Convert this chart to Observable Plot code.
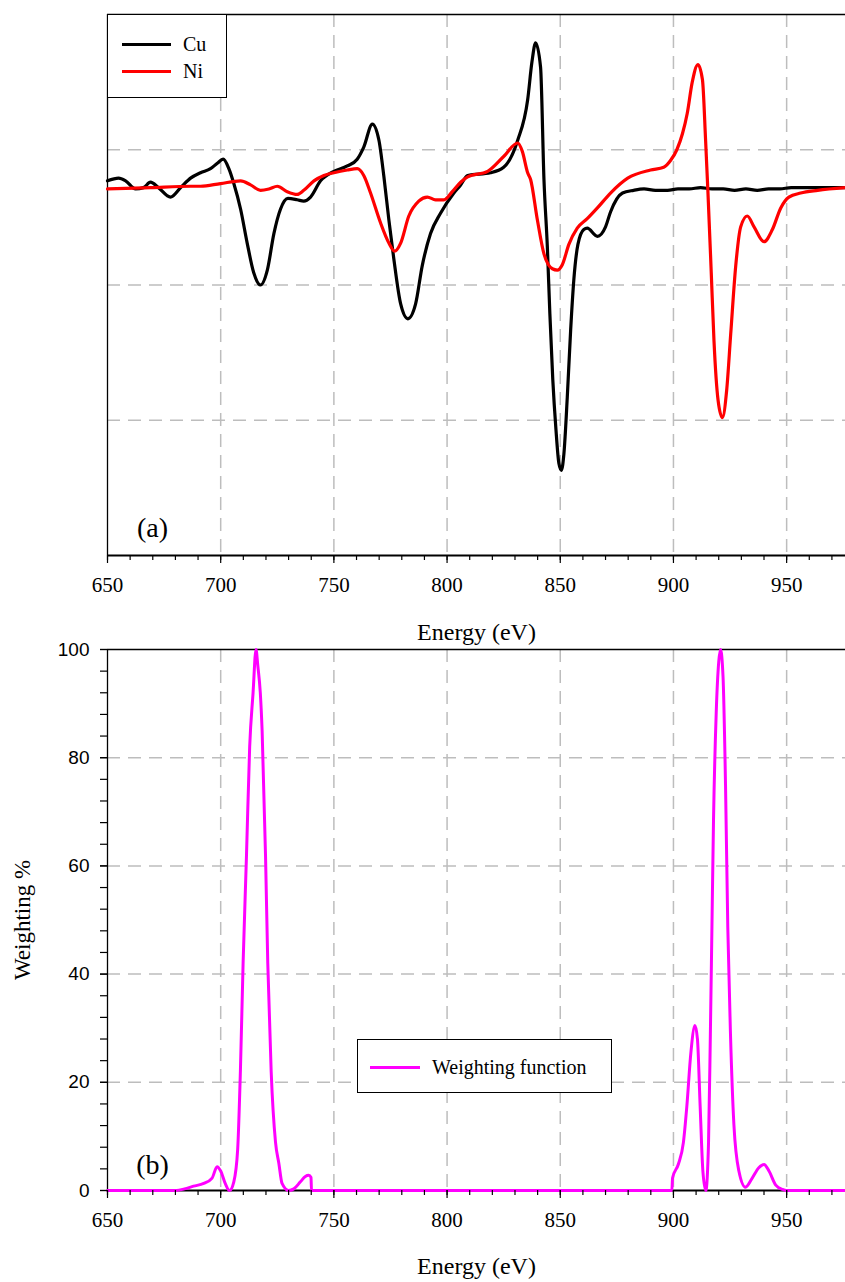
<!DOCTYPE html>
<html><head><meta charset="utf-8">
<script src="https://cdn.jsdelivr.net/npm/d3@7"></script>
<script src="https://cdn.jsdelivr.net/npm/@observablehq/plot@0.6"></script>
<style>
body{margin:0;background:#fff;}
#chart{position:relative;width:845px;height:1282px;overflow:hidden;background:#fff;}
#chart > div.p{position:absolute;left:0;}
.legend{position:absolute;background:#fff;border:1.3px solid #000;box-sizing:border-box;font-family:"Liberation Serif","Times New Roman",serif;font-size:20px;color:#000;}
.legend .row{position:absolute;display:flex;align-items:center;}
.legend .sw{display:inline-block;height:3px;}
</style></head><body><div id="chart"></div>
<script>
// ---------- data ----------
const cuE = [650,654.9,658,662.4,665.9,669,672.5,677.8,682.3,686.7,691.1,695.5,698.5,701.1,703.6,705.8,708.8,711.7,714.6,717.6,720.6,723.5,726.4,729.7,733.8,736.7,739.7,744.1,750,755.9,760.3,763.2,767,769.9,772.1,774.3,776.5,779.5,782.7,786.1,789,792.7,797.1,803,806,809.1,819.2,825,831.2,835.6,837.5,839.1,841.3,842.8,844.3,845.4,846.7,848.1,849.4,850.5,851.6,853.1,854.6,856,857.8,860.4,861.9,866.4,870,872.2,877.5,882.4,887,892,897.4,902,907,912,917,922,927,932,937,942,947,952,957,962,967,972,976];
const cuV = [0.77,0.79,0.77,0.71,0.72,0.76,0.72,0.65,0.72,0.79,0.83,0.86,0.90,0.93,0.86,0.75,0.56,0.31,0.09,0.00,0.11,0.38,0.56,0.64,0.63,0.62,0.65,0.77,0.84,0.88,0.93,1.02,1.19,1.07,0.80,0.48,0.19,-0.14,-0.25,-0.14,0.14,0.38,0.53,0.68,0.74,0.81,0.83,0.87,1.07,1.37,1.65,1.79,1.61,0.78,0.28,-0.21,-0.70,-1.07,-1.32,-1.37,-1.25,-0.83,-0.33,0.04,0.30,0.41,0.42,0.36,0.43,0.54,0.68,0.70,0.71,0.70,0.70,0.71,0.71,0.72,0.71,0.71,0.70,0.71,0.70,0.71,0.71,0.72,0.72,0.72,0.72,0.72,0.72];

const niE = [650,669,686.7,691.1,699.9,708.8,713.2,717.6,721.3,725,729.4,733.8,736.7,741.2,745.6,750,755.9,760.3,763.2,766.2,770.6,774.3,776.8,779.5,783.1,787.5,791.3,794.9,798.6,802.3,806,809.1,817.9,825,831.2,833.2,835.6,836.9,839.9,842.8,846.5,848.7,850.9,853.8,857.5,861.9,866.4,872.2,879.8,889.9,895.7,898.7,901.5,904,906.1,908.3,910.8,912.8,914.2,915.2,916.7,917.9,919.7,921.6,923.5,925.3,927.5,929.7,932.6,935.6,940,943.7,947.4,951,956.2,963.7,976];
const niV = [0.71,0.72,0.73,0.73,0.75,0.77,0.74,0.70,0.71,0.73,0.69,0.67,0.70,0.77,0.81,0.83,0.85,0.86,0.81,0.68,0.46,0.31,0.25,0.31,0.51,0.62,0.65,0.63,0.63,0.69,0.76,0.80,0.84,0.95,1.05,0.99,0.83,0.78,0.48,0.23,0.12,0.11,0.15,0.30,0.42,0.49,0.57,0.68,0.79,0.85,0.87,0.92,1.00,1.12,1.27,1.50,1.63,1.52,1.07,0.70,0.09,-0.41,-0.85,-0.98,-0.78,-0.36,0.14,0.43,0.51,0.43,0.32,0.41,0.57,0.65,0.68,0.70,0.72];

const wE = [650,680.5,684,688,692.5,696.2,698.4,700,702,703.9,705.8,707.5,708.7,709.9,711.4,712.8,714.3,715.6,716.4,717.5,718.3,719.8,720.8,722.3,724.2,725.7,727.1,730,732.3,735.2,737.4,738.9,739.9,740.1,899.3,899.6,902.2,904.4,905.9,907.7,909.5,910.6,911.8,913,914.3,915.5,916.3,917,917.7,918.9,920,920.8,921.9,923,924,925.2,926.7,928.9,931.8,934.8,937.7,940,942.2,945.2,948.2,950,976];
const wV = [0,0,0.3,0.8,1.3,2.3,4.4,3.6,1.3,0,1.6,7.6,22,42,62,82,92,100,97,92,85,62,42,22,9,5,1.3,0,0.3,1.6,2.6,2.8,2.4,0,0,2.3,4.9,8.9,15.5,25.5,30.5,28,15.5,3.6,0,8.9,28.8,48.7,68.6,88.4,97.7,100,95,75,48.7,28.8,12.2,3.6,0.6,2.3,4.2,4.8,3.6,1.0,0.2,0,0];

const seriesNames = ["Cu", "Ni"];
const seriesColors = ["#000000", "#ff0000"];
const weightName = "Weighting function";
const weightColor = "#ff00ff";
const xMajor = [650,700,750,800,850,900,950];
const xMinor = d3.range(650, 977, 10);
const yMajorB = [0,20,40,60,80,100];
const yMinorB = d3.range(0, 101, 4);
const xLabel = "Energy (eV)";
const yLabelB = "Weighting %";

const cu = cuE.map((e,i)=>({E:e, v:cuV[i]}));
const ni = niE.map((e,i)=>({E:e, v:niV[i]}));
const wf = wE.map((e,i)=>({E:e, v:wV[i]}));

const serif = "Liberation Serif";
const sans = "Liberation Sans";
const grid = {stroke:"#bdbdbd", strokeOpacity:1, strokeWidth:1.5, strokeDasharray:"13,8"};
const xDomain = [650, 976];

function xAxes() {
  return [
    Plot.axisX(xMinor, {tickSize:5, tickFormat:()=>"", stroke:"#000", strokeWidth:1.2}),
    Plot.axisX(xMajor, {tickSize:8, tickFormat:()=>"", stroke:"#000", strokeWidth:1.2}),
    Plot.text(xMajor, {x:d=>d, text:d=>String(d), frameAnchor:"bottom", dy:30, lineAnchor:"middle", fontSize:21, fontFamily:serif, fontVariant:"normal", fill:"#000"})
  ];
}

const topPlot = Plot.plot({
  width:845, height:650,
  marginTop:14, marginBottom:95, marginLeft:107, marginRight:0,
  x:{domain:xDomain, label:null},
  y:{domain:[-2,2], label:null, axis:null},
  style:{fontFamily:serif, background:"none", color:"black"},
  marks:[
    Plot.gridX(xMajor.slice(1), grid),
    Plot.gridY([-1,0,1], grid),
    Plot.ruleY([2], {stroke:"#000", strokeWidth:1.5}),
    Plot.ruleX([650], {stroke:"#000", strokeWidth:1.3}),
    Plot.line(cu, {x:"E", y:"v", stroke:seriesColors[0], strokeWidth:3.2, curve:"monotone-x"}),
    Plot.line(ni, {x:"E", y:"v", stroke:seriesColors[1], strokeWidth:3.2, curve:"monotone-x"}),
    Plot.ruleY([-2], {stroke:"#000", strokeWidth:1.8}),
    ...xAxes(),
    Plot.text([xLabel], {frameAnchor:"bottom", dy:77, lineAnchor:"middle", fontSize:24, fontFamily:serif}),
    Plot.text(["(a)"], {frameAnchor:"bottom-left", dx:45, dy:-27, lineAnchor:"middle", textAnchor:"middle", fontSize:28, fontFamily:serif})
  ]
});

const botPlot = Plot.plot({
  width:845, height:642,
  marginTop:9, marginBottom:92, marginLeft:107, marginRight:0,
  x:{domain:xDomain, label:null},
  y:{domain:[0,100], label:null},
  style:{fontFamily:serif, background:"none", color:"black"},
  marks:[
    Plot.gridX(xMajor.slice(1), grid),
    Plot.gridY([20,40,60,80], grid),
    Plot.ruleY([100], {stroke:"#000", strokeWidth:1.5}),
    Plot.ruleY([0], {stroke:"#000", strokeWidth:1.8}),
    Plot.ruleX([650], {stroke:"#000", strokeWidth:1.3}),
    Plot.line(wf, {x:"E", y:"v", stroke:weightColor, strokeWidth:3, curve:"monotone-x"}),
    ...xAxes(),
    Plot.axisY(yMinorB, {tickSize:7, tickFormat:()=>"", stroke:"#000", strokeWidth:1.2}),
    Plot.axisY(yMajorB, {tickSize:7, tickFormat:()=>"", stroke:"#000", strokeWidth:1.2}),
    Plot.text(yMajorB, {y:d=>d, text:d=>String(d), frameAnchor:"left", dx:-18, textAnchor:"end", lineAnchor:"middle", fontSize:19, fontFamily:sans, fontVariant:"normal", fill:"#000"}),
    Plot.text([xLabel], {frameAnchor:"bottom", dy:76, lineAnchor:"middle", fontSize:24, fontFamily:serif}),
    Plot.text([yLabelB], {frameAnchor:"left", dx:-85, rotate:-90, lineAnchor:"middle", textAnchor:"middle", fontSize:23, fontFamily:serif}),
    Plot.text(["(b)"], {frameAnchor:"bottom-left", dx:45, dy:-25, lineAnchor:"middle", textAnchor:"middle", fontSize:28, fontFamily:serif})
  ]
});

const chart = document.getElementById("chart");
const d2 = document.createElement("div"); d2.className="p"; d2.style.top="640px"; d2.appendChild(botPlot); chart.appendChild(d2);
const d1 = document.createElement("div"); d1.className="p"; d1.style.top="0px"; d1.appendChild(topPlot); chart.appendChild(d1);

function legend(box, rows) {
  const L = document.createElement("div");
  L.className = "legend";
  Object.assign(L.style, {left:box.left+"px", top:box.top+"px", width:box.w+"px", height:box.h+"px"});
  rows.forEach(r => {
    const row = document.createElement("div");
    row.className = "row";
    Object.assign(row.style, {left:r.x+"px", top:(r.y-12)+"px", height:"24px"});
    const sw = document.createElement("span");
    sw.className = "sw";
    Object.assign(sw.style, {width:r.len+"px", background:r.color, marginRight:r.gap+"px"});
    const t = document.createElement("span");
    t.textContent = r.name;
    row.appendChild(sw); row.appendChild(t);
    L.appendChild(row);
  });
  chart.appendChild(L);
}
legend({left:107, top:14, w:120, h:84}, [
  {x:14, y:29, len:49, gap:12, color:seriesColors[0], name:seriesNames[0]},
  {x:14, y:56, len:49, gap:12, color:seriesColors[1], name:seriesNames[1]}
]);
legend({left:357, top:1039, w:255, h:54}, [
  {x:12, y:27, len:50, gap:12, color:weightColor, name:weightName}
]);
</script></body></html>
